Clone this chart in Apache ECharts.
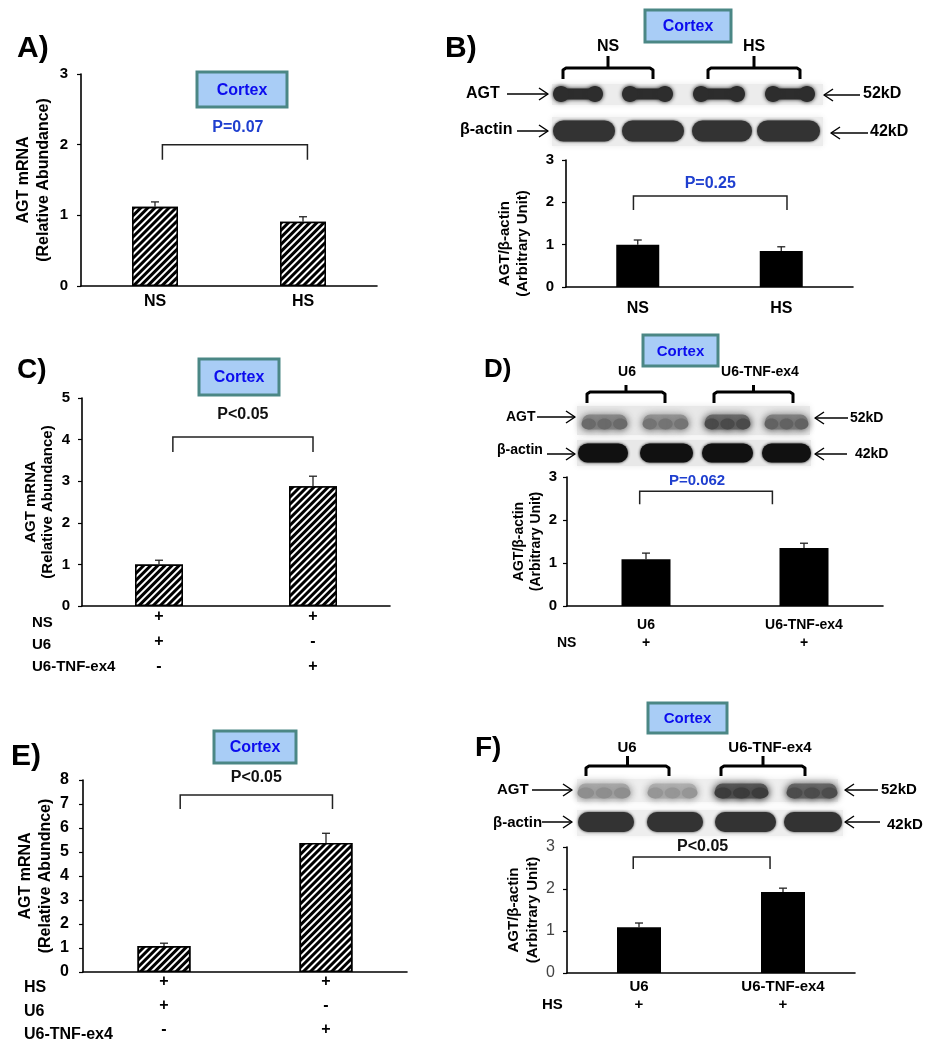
<!DOCTYPE html>
<html><head><meta charset="utf-8">
<script src="https://cdn.jsdelivr.net/npm/echarts@6/dist/echarts.min.js"></script>
<style>html,body{margin:0;padding:0;background:#fff}#c{width:927px;height:1050px}</style>
</head><body><div id="c"></div>
<script>
// ---------------- DATA ----------------
const catsA = ['NS', 'HS'];
const valsA = [1.12, 0.91];
const errA  = [0.07, 0.07];

const catsB = ['NS', 'HS'];
const valsB = [1.00, 0.85];
const errB  = [0.11, 0.10];

const catsC  = ['NS+U6', 'NS+U6-TNF-ex4'];
const rowsC  = ['NS', 'U6', 'U6-TNF-ex4'];
const signsC = [['+', '+', '-'], ['+', '-', '+']];
const valsC  = [1.00, 2.88];
const errC   = [0.10, 0.24];

const catsD  = ['U6', 'U6-TNF-ex4'];
const rowD   = 'NS';
const signsD = ['+', '+'];
const valsD  = [1.09, 1.35];
const errD   = [0.14, 0.11];

const catsE  = ['HS+U6', 'HS+U6-TNF-ex4'];
const rowsE  = ['HS', 'U6', 'U6-TNF-ex4'];
const signsE = [['+', '+', '-'], ['+', '-', '+']];
const valsE  = [1.08, 5.38];
const errE   = [0.12, 0.40];

const catsF  = ['U6', 'U6-TNF-ex4'];
const rowF   = 'HS';
const signsF = ['+', '+'];
const valsF  = [1.09, 1.93];
const errF   = [0.10, 0.09];

const yMax      = [3, 3, 5, 3, 8, 3];
const pLabels   = ['P=0.07', 'P=0.25', 'P<0.05', 'P=0.062', 'P<0.05', 'P<0.05'];
const bracketLv = [2.0, 2.15, 4.06, 2.67, 7.37, 2.76];
const bracketSp = [[0.05, 1.03], [-0.03, 1.04], [0.09, 1.0], [-0.04, 0.80], [0.10, 1.04], [-0.04, 0.91]];
const panelTags = ['A)', 'B)', 'C)', 'D)', 'E)', 'F)'];
const yTitles   = ['AGT mRNA\n(Relative Abundance)', 'AGT/β-actin\n(Arbitrary Unit)', 'AGT mRNA\n(Relative Abundance)',
                   'AGT/β-actin\n(Arbitrary Unit)', 'AGT mRNA\n(Relative Abundnce)', 'AGT/β-actin\n(Arbitrary Unit)'];
const boxText   = 'Cortex';
const blotRows  = ['AGT', 'β-actin'];
const blotKD    = ['52kD', '42kD'];
const groupsB   = ['NS', 'HS'];
const groupsDF  = ['U6', 'U6-TNF-ex4'];

// ---------------- STYLE / LAYOUT ----------------
const FONT = '"Liberation Sans", Arial, Helvetica, sans-serif';
const PBLUE = '#1f3fcf';
const panels = [
  { cats: catsA, vals: valsA, err: errA, grid: {left: 81, top: 74, width: 296, height: 212}, hatch: true, bw: 46,
    tick: {size: 15, w: 'bold', m: 13}, name: {size: 16, lh: 20, gap: 27, pad: 0},
    xl: {fmt: (v) => v, size: 16, lh: 20, m: 6}, p: {color: PBLUE, size: 16, off: 17, drop: 15, dx: 3} },
  { cats: catsB, vals: valsB, err: errB, grid: {left: 566, top: 160, width: 287, height: 127}, hatch: false, bw: 43,
    tick: {size: 15, w: 'bold', m: 12}, name: {size: 15, lh: 18, gap: 34, pad: 40},
    xl: {fmt: (v) => v, size: 16, lh: 20, m: 12}, p: {color: PBLUE, size: 16, off: 12, drop: 14, dx: 0} },
  { cats: catsC, vals: valsC, err: errC, grid: {left: 82, top: 398, width: 308, height: 208}, hatch: true, bw: 48,
    tick: {size: 15, w: 'bold', m: 12}, name: {size: 15, lh: 17, gap: 26, pad: 0},
    xl: {fmt: (v, i) => signsC[i].join('\n'), size: 16, lh: 25, m: -2}, p: {color: '#111', size: 16, off: 23, drop: 15, dx: 0} },
  { cats: catsD, vals: valsD, err: errD, grid: {left: 567, top: 477, width: 316, height: 129}, hatch: false, bw: 49,
    tick: {size: 15, w: 'bold', m: 10}, name: {size: 14, lh: 17, gap: 22, pad: 0},
    xl: {fmt: (v, i) => v + '\n' + signsD[i], size: 14, lh: 18, m: 10}, p: {color: PBLUE, size: 15, off: 10, drop: 13, dx: -9} },
  { cats: catsE, vals: valsE, err: errE, grid: {left: 83, top: 780, width: 324, height: 192}, hatch: true, bw: 53,
    tick: {size: 16, w: 'bold', m: 14}, name: {size: 16, lh: 20, gap: 27, pad: 0},
    xl: {fmt: (v, i) => signsE[i].join('\n'), size: 16, lh: 24, m: -2}, p: {color: '#111', size: 16, off: 18, drop: 14, dx: 0} },
  { cats: catsF, vals: valsF, err: errF, grid: {left: 567, top: 847, width: 288, height: 126}, hatch: false, bw: 44,
    tick: {size: 16, w: 'normal', m: 12, color: '#444'}, name: {size: 15, lh: 19, gap: 24, pad: 0},
    xl: {fmt: (v, i) => v + '\n' + signsF[i], size: 15, lh: 18, m: 5}, p: {color: '#111', size: 16, off: 10, drop: 12, dx: 1} }
];

const hatchDecal = {
  symbol: 'rect', symbolSize: 1, color: '#000', backgroundColor: '#fff',
  dashArrayX: [1, 0], dashArrayY: [2.2, 1.6], rotation: -Math.PI / 4
};

const grids = [], xAxes = [], yAxes = [], series = [];
panels.forEach((p, i) => {
  grids.push(Object.assign({containLabel: false, outerBoundsMode: 'none'}, p.grid));
  xAxes.push({
    type: 'category', gridIndex: i, data: p.cats,
    axisTick: {show: false},
    axisLine: {show: true, lineStyle: {color: '#000', width: 1.6}},
    axisLabel: {formatter: p.xl.fmt, fontSize: p.xl.size, lineHeight: p.xl.lh, margin: p.xl.m,
                fontWeight: 'bold', color: '#000', fontFamily: FONT, interval: 0}
  });
  yAxes.push({
    type: 'value', gridIndex: i, min: 0, max: yMax[i], interval: 1,
    splitLine: {show: false},
    axisLine: {show: true, lineStyle: {color: '#000', width: 1.6}},
    axisTick: {show: true, length: 4, inside: false, lineStyle: {color: '#000', width: 1.2}},
    axisLabel: {fontSize: p.tick.size, fontWeight: p.tick.w, color: p.tick.color || '#000', margin: p.tick.m, fontFamily: FONT},
    name: yTitles[i], nameLocation: 'middle', nameRotate: 90, nameGap: p.name.gap,
    nameTextStyle: {fontSize: p.name.size, lineHeight: p.name.lh, fontWeight: 'bold', color: '#000', fontFamily: FONT,
                    align: 'center', padding: [0, p.name.pad, 0, 0]}
  });
  series.push({
    type: 'bar', xAxisIndex: i, yAxisIndex: i, data: p.vals, barWidth: p.bw, silent: true,
    itemStyle: p.hatch
      ? {color: '#fff', borderColor: '#000', borderWidth: 1.6, decal: hatchDecal}
      : {color: '#000', borderColor: '#000', borderWidth: 0}
  });
  series.push({
    type: 'custom', xAxisIndex: i, yAxisIndex: i, z: 5, silent: true, clip: false,
    data: p.vals.map((v, k) => [k, v, p.err[k]]),
    renderItem: (params, api) => {
      const b = api.coord([api.value(0), api.value(1)]);
      const t = api.coord([api.value(0), api.value(1) + api.value(2)]);
      const st = {stroke: '#222', lineWidth: 1.3};
      return {type: 'group', children: [
        {type: 'line', shape: {x1: b[0], y1: b[1], x2: b[0], y2: t[1]}, style: st},
        {type: 'line', shape: {x1: b[0] - 4, y1: t[1], x2: b[0] + 4, y2: t[1]}, style: st}
      ]};
    }
  });
  series.push({
    type: 'custom', xAxisIndex: i, yAxisIndex: i, z: 5, silent: true, clip: false,
    data: [[0, bracketLv[i], bracketSp[i][0], bracketSp[i][1]]],
    renderItem: (params, api) => {
      const lv = api.value(1);
      const c0 = api.coord([0, lv]), c1 = api.coord([1, lv]);
      const xl = c0[0] + (c1[0] - c0[0]) * api.value(2);
      const xr = c0[0] + (c1[0] - c0[0]) * api.value(3);
      const y = c0[1];
      return {type: 'group', children: [
        {type: 'polyline', shape: {points: [[xl, y + p.p.drop], [xl, y], [xr, y], [xr, y + p.p.drop]]},
         style: {stroke: '#222', lineWidth: 1.5, fill: null}},
        {type: 'text', x: (xl + xr) / 2 + p.p.dx, y: y - p.p.off,
         style: {text: pLabels[i], fill: p.p.color, fontSize: p.p.size, fontWeight: 'bold', fontFamily: FONT,
                 align: 'center', verticalAlign: 'middle'}}
      ]};
    }
  });
});

// ---------------- GRAPHIC DECORATION (labels, boxes, blots) ----------------
const G = [];
function txt(x, y, s, size, o) {
  o = o || {};
  G.push({type: 'text', x: x, y: y, z: 10, style: {text: s, fill: o.color || '#000',
    font: (o.weight || 'bold') + ' ' + size + 'px ' + FONT,
    align: o.align || 'left', textAlign: o.align || 'left', verticalAlign: 'middle', textVerticalAlign: 'middle'}});
}
function pl(points, w, color) {
  G.push({type: 'polyline', z: 10, shape: {points: points}, style: {stroke: color || '#000', lineWidth: w || 1.5, fill: null, lineJoin: 'round'}});
}
function arrowR(x1, x2, y) { pl([[x1, y], [x2, y]], 1.5); pl([[x2 - 9, y - 6], [x2, y], [x2 - 9, y + 6]], 1.5); }
function arrowL(x1, x2, y) { pl([[x1, y], [x2, y]], 1.5); pl([[x1 + 9, y - 6], [x1, y], [x1 + 9, y + 6]], 1.5); }
function brace(x0, x1, yTop, drop, nub) {
  pl([[x0, yTop + drop], [x0, yTop + 2], [x0 + 3, yTop], [x1 - 3, yTop], [x1, yTop + 2], [x1, yTop + drop]], 3);
  pl([[(x0 + x1) / 2, yTop], [(x0 + x1) / 2, yTop - nub]], 3);
}
function box(x, y, w, h, size) {
  G.push({type: 'rect', z: 9, shape: {x: x, y: y, width: w, height: h},
          style: {fill: '#a9cdf6', stroke: '#4b8785', lineWidth: 3}});
  txt(x + w / 2, y + h / 2 + 1, boxText, size, {align: 'center', color: '#0c0cee'});
}
function strip(x0, x1, y0, y1, fill) {
  G.push({type: 'rect', z: 1, shape: {x: x0, y: y0, width: x1 - x0, height: y1 - y0},
          style: {fill: fill, shadowBlur: 6, shadowColor: fill}});
}
function bandRect(x0, x1, yc, h, color, blur) {
  G.push({type: 'rect', z: 2, shape: {x: x0, y: yc - h / 2, width: x1 - x0, height: h, r: h / 2},
          style: {fill: color, shadowBlur: blur, shadowColor: color}});
}
function blob(cx, cy, rx, ry, color, blur) {
  G.push({type: 'ellipse', z: 3, shape: {cx: cx, cy: cy, rx: rx, ry: ry},
          style: {fill: color, shadowBlur: blur, shadowColor: color}});
}
function dumbbell(x0, x1, yc, color) {
  bandRect(x0 + 3, x1 - 3, yc, 11, color, 4);
  blob(x0 + 8, yc, 8, 8, color, 4);
  blob(x1 - 8, yc, 8, 8, color, 4);
}
function fuzzy(x0, x1, yc, h, color, dark) {
  bandRect(x0, x1, yc, h, color, 8);
  const w = x1 - x0;
  [0.15, 0.5, 0.85].forEach(f => blob(x0 + w * f, yc + 2, w * 0.16, h * 0.36, dark, 7));
}

// panel letters
txt(17, 49, panelTags[0], 30); txt(445, 49, panelTags[1], 30);
txt(17, 370, panelTags[2], 28); txt(484, 370, panelTags[3], 26);
txt(11, 757, panelTags[4], 30); txt(475, 748, panelTags[5], 28);

// Cortex boxes
box(197, 72, 90, 35, 16);
box(645, 10, 86, 32, 16);
box(199, 359, 80, 36, 16);
box(643, 335, 75, 31, 15);
box(214, 731, 82, 32, 16);
box(648, 703, 79, 30, 15);

// Row labels under C and E, D and F
[623, 645, 667].forEach((y, k) => txt(32, y, rowsC[k], 15));
[988, 1012, 1035].forEach((y, k) => txt(24, y, rowsE[k], 16));
txt(557, 643, rowD, 14);
txt(542, 1005, rowF, 15);

// ---- Blot B ----
txt(608, 47, groupsB[0], 16, {align: 'center'}); txt(754, 47, groupsB[1], 16, {align: 'center'});
brace(563, 653, 68, 11, 12); brace(708, 800, 68, 11, 12);
strip(552, 823, 84, 105, '#ececec');
[[553, 603], [622, 673], [693, 745], [765, 815]].forEach(b => dumbbell(b[0], b[1], 94, '#2d2d2d'));
strip(552, 823, 117, 146, '#ececec');
[[553, 615], [622, 684], [692, 752], [757, 820]].forEach(b => bandRect(b[0], b[1], 131, 21, '#333', 3));
txt(466, 94, blotRows[0], 16); arrowR(507, 548, 94);
txt(460, 130, blotRows[1], 16); arrowR(517, 548, 131);
arrowL(824, 860, 95); txt(863, 94, blotKD[0], 16);
arrowL(831, 868, 133); txt(870, 132, blotKD[1], 16);

// ---- Blot D ----
txt(627, 372, groupsDF[0], 14, {align: 'center'}); txt(760, 372, groupsDF[1], 14, {align: 'center'});
brace(587, 665, 392, 11, 7); brace(714, 793, 392, 11, 7);
strip(577, 810, 406, 435, '#e8e8e8');
[[582, 627, '#8c8c8c', '#6a6a6a'], [643, 688, '#969696', '#747474'], [705, 750, '#6e6e6e', '#4a4a4a'], [765, 808, '#848484', '#626262']]
  .forEach(b => fuzzy(b[0], b[1], 422, 15, b[2], b[3]));
strip(577, 811, 440, 466, '#e8e8e8');
[[578, 628], [640, 693], [702, 753], [762, 811]].forEach(b => bandRect(b[0], b[1], 453, 19, '#111', 3));
txt(506, 417, blotRows[0], 14); arrowR(537, 575, 417);
txt(497, 450, blotRows[1], 14); arrowR(547, 575, 454);
arrowL(815, 848, 418); txt(850, 418, blotKD[0], 14);
arrowL(815, 847, 454); txt(855, 454, blotKD[1], 14);

// ---- Blot F ----
txt(627, 748, groupsDF[0], 15, {align: 'center'}); txt(770, 748, groupsDF[1], 15, {align: 'center'});
brace(586, 669, 766, 10, 10); brace(721, 805, 766, 10, 10);
strip(577, 838, 779, 802, '#eeeeee');
[[578, 630, '#aaaaaa', '#8e8e8e'], [648, 697, '#b2b2b2', '#969696'], [715, 768, '#5a5a5a', '#3c3c3c'], [787, 837, '#6a6a6a', '#4c4c4c']]
  .forEach(b => fuzzy(b[0], b[1], 791, 15, b[2], b[3]));
strip(577, 843, 810, 836, '#eeeeee');
[[578, 634], [647, 703], [715, 776], [784, 842]].forEach(b => bandRect(b[0], b[1], 822, 20, '#333', 3));
txt(497, 790, blotRows[0], 15); arrowR(532, 572, 790);
txt(493, 823, blotRows[1], 15); arrowR(542, 572, 822);
arrowL(845, 878, 790); txt(881, 790, blotKD[0], 15);
arrowL(845, 880, 822); txt(887, 825, blotKD[1], 15);

const chart = echarts.init(document.getElementById('c'), null, {renderer: 'canvas', width: 927, height: 1050});
chart.setOption({
  animation: false,
  backgroundColor: '#fff',
  textStyle: {fontFamily: FONT},
  grid: grids, xAxis: xAxes, yAxis: yAxes, series: series,
  graphic: {elements: G}
});
</script></body></html>
